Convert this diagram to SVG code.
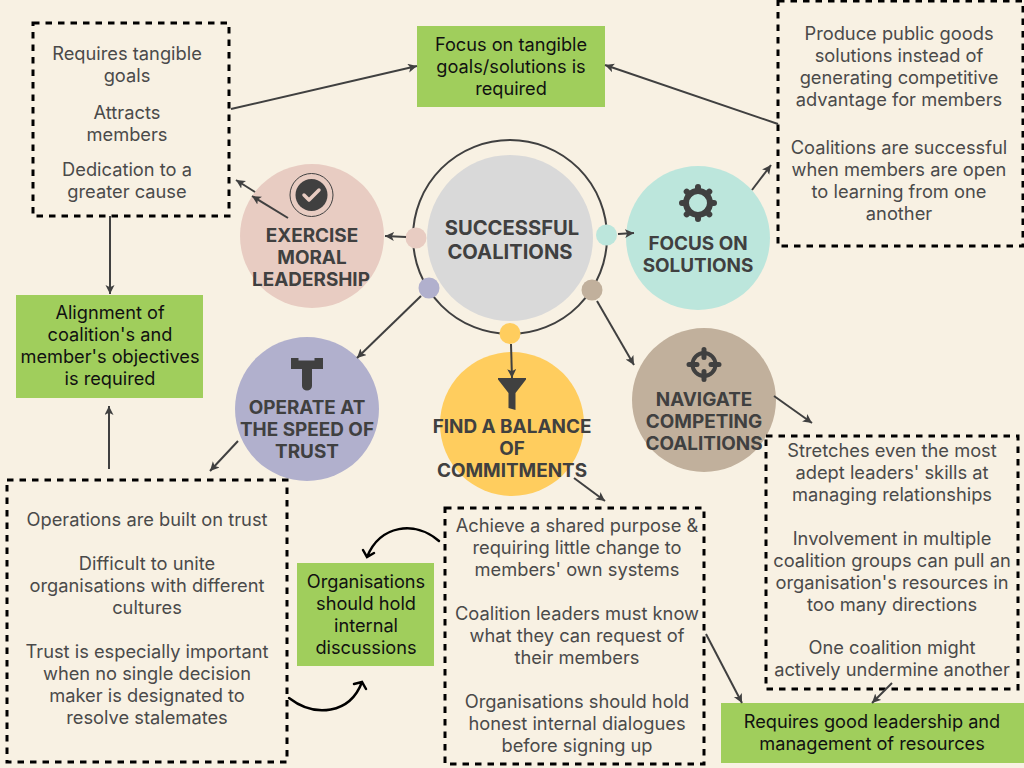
<svg xmlns="http://www.w3.org/2000/svg" width="1024" height="768" viewBox="0 0 1024 768">
<style>
.b{font-family:Inter,"Liberation Sans",sans-serif;font-size:18.300px;fill:#4a4a4a;text-anchor:middle}
.h{font-family:Inter,"Liberation Sans",sans-serif;font-size:18.900px;font-weight:700;fill:#404040;text-anchor:middle}
.g{font-family:Inter,"Liberation Sans",sans-serif;font-size:18.200px;fill:#111;text-anchor:middle}
.d{fill:none;stroke:#000;stroke-width:3;stroke-dasharray:6.500 6}
.gr{fill:#a0ce5c}
.l{fill:none;stroke:#404040;stroke-width:2;marker-end:url(#a)}
.c{fill:none;stroke:#000;stroke-width:2.500;stroke-linecap:round}
.i{fill:#404040}
</style>
<defs><marker id="a" markerUnits="userSpaceOnUse" markerWidth="11" markerHeight="10" refX="9" refY="4.500" orient="auto"><path d="M0 0L9 4.500L0 9L2.200 4.500Z" fill="#404040"/></marker></defs>
<rect width="1024" height="768" fill="#f8f1e3"/>
<g id="center">
<circle cx="510" cy="237" r="97" fill="none" stroke="#404040" stroke-width="2"/>
<circle cx="510" cy="238" r="83" fill="#d9d9d9"/>
<text class="h" style="font-size:20.200px" x="512" y="235">SUCCESSFUL</text>
<text class="h" style="font-size:20.200px" x="510" y="259">COALITIONS</text>
<circle cx="416" cy="238" r="10.500" fill="#e8ccc2"/>
<circle cx="606.500" cy="235" r="10.500" fill="#bce6dc"/>
<circle cx="429" cy="288" r="10.500" fill="#b1b0cd"/>
<circle cx="592" cy="290" r="10.500" fill="#c1b09c"/>
<circle cx="510" cy="333.500" r="10.500" fill="#ffcd5e"/>
</g>
<g id="moral">
<circle cx="312" cy="236" r="72" fill="#e8ccc2"/>
<circle cx="311.500" cy="195" r="21.500" fill="none" stroke="#404040" stroke-width="1"/>
<circle cx="311.500" cy="195" r="16" class="i"/>
<path d="M304 195l5 5l10-10" fill="none" stroke="#e8ccc2" stroke-width="3.500" stroke-linecap="round" stroke-linejoin="round"/>
<text class="h" x="312" y="242">EXERCISE</text>
<text class="h" x="312" y="264">MORAL</text>
<text class="h" x="311" y="286">LEADERSHIP</text>
</g>
<g id="solutions">
<circle cx="698" cy="238" r="72" fill="#bce6dc"/>
<circle cx="698" cy="203" r="12" fill="none" stroke="#404040" stroke-width="6"/>
<path d="M698 187v4M698 215v4M682 203h4M710 203h4M686.700 191.700l2.800 2.800M706.500 211.500l2.800 2.800M709.300 191.700l-2.800 2.800M689.500 211.500l-2.800 2.800" stroke="#404040" stroke-width="6" stroke-linecap="round"/>
<text class="h" x="698" y="250">FOCUS ON</text>
<text class="h" x="698" y="272">SOLUTIONS</text>
</g>
<g id="speed">
<circle cx="307" cy="409" r="72" fill="#b1b0cd"/>
<path class="i" d="M291 358h7.500v2.500h16v-2.500h8.500v11h-11v17a5 4.500 0 0 1-10 0v-17h-11Z"/>
<text class="h" x="307" y="414">OPERATE AT</text>
<text class="h" x="307" y="436">THE SPEED OF</text>
<text class="h" x="307" y="458">TRUST</text>
</g>
<g id="balance">
<circle cx="512" cy="424" r="72" fill="#ffcd5e"/>
<path class="i" d="M498 378h28v1.500l-10.500 13.500v17l-7-2v-15l-10.500-13.500Z"/>
<text class="h" x="512" y="433">FIND A BALANCE</text>
<text class="h" x="512" y="455">OF</text>
<text class="h" x="512" y="477">COMMITMENTS</text>
</g>
<g id="navigate">
<circle cx="704" cy="400" r="72" fill="#c1b09c"/>
<circle cx="704" cy="364.500" r="11.500" fill="none" stroke="#404040" stroke-width="4"/>
<path d="M704 349.500v8M704 371.500v8M689 364.500h8M711 364.500h8" stroke="#404040" stroke-width="5" stroke-linecap="round"/>
<text class="h" x="704" y="406">NAVIGATE</text>
<text class="h" x="704" y="428">COMPETING</text>
<text class="h" x="704" y="450">COALITIONS</text>
</g>
<g id="box-moral">
<rect class="d" x="33" y="23" width="196" height="193"/>
<text class="b" x="127" y="60">Requires tangible</text><text class="b" x="127" y="82">goals</text>
<text class="b" x="127" y="119">Attracts</text><text class="b" x="127" y="141">members</text>
<text class="b" x="127" y="176">Dedication to a</text><text class="b" x="127" y="198">greater cause</text>
</g>
<g id="box-solutions">
<rect class="d" x="778" y="1" width="245" height="245"/>
<text class="b" x="899" y="40">Produce public goods</text><text class="b" x="899" y="62">solutions instead of</text><text class="b" x="899" y="84">generating competitive</text><text class="b" x="899" y="106">advantage for members</text>
<text class="b" x="899" y="154">Coalitions are successful</text><text class="b" x="899" y="176">when members are open</text><text class="b" x="899" y="198">to learning from one</text><text class="b" x="899" y="220">another</text>
</g>
<g id="box-speed">
<rect class="d" x="7" y="480" width="280" height="282"/>
<text class="b" x="147" y="526">Operations are built on trust</text>
<text class="b" x="147" y="570">Difficult to unite</text><text class="b" x="147" y="592">organisations with different</text><text class="b" x="147" y="614">cultures</text>
<text class="b" x="147" y="658">Trust is especially important</text><text class="b" x="147" y="680">when no single decision</text><text class="b" x="147" y="702">maker is designated to</text><text class="b" x="147" y="724">resolve stalemates</text>
</g>
<g id="box-balance">
<rect class="d" x="445" y="508" width="259" height="256"/>
<text class="b" x="577" y="532">Achieve a shared purpose &amp;</text><text class="b" x="577" y="554">requiring little change to</text><text class="b" x="577" y="576">members' own systems</text>
<text class="b" x="577" y="620">Coalition leaders must know</text><text class="b" x="577" y="642">what they can request of</text><text class="b" x="577" y="664">their members</text>
<text class="b" x="577" y="708">Organisations should hold</text><text class="b" x="577" y="730">honest internal dialogues</text><text class="b" x="577" y="752">before signing up</text>
</g>
<g id="box-navigate">
<rect class="d" x="766" y="436" width="252" height="253"/>
<text class="b" x="892" y="457">Stretches even the most</text><text class="b" x="892" y="479">adept leaders' skills at</text><text class="b" x="892" y="501">managing relationships</text>
<text class="b" x="892" y="545">Involvement in multiple</text><text class="b" x="892" y="567">coalition groups can pull an</text><text class="b" x="892" y="589">organisation's resources in</text><text class="b" x="892" y="611">too many directions</text>
<text class="b" x="892" y="654">One coalition might</text><text class="b" x="892" y="676">actively undermine another</text>
</g>
<g id="green-goals"><rect class="gr" x="417" y="26" width="188" height="81"/>
<text class="g" x="511" y="51">Focus on tangible</text><text class="g" x="511" y="73">goals/solutions is</text><text class="g" x="511" y="95">required</text></g>
<g id="green-align"><rect class="gr" x="16" y="295" width="187" height="103"/>
<text class="g" x="110" y="319">Alignment of</text><text class="g" x="110" y="341">coalition's and</text><text class="g" x="110" y="363">member's objectives</text><text class="g" x="110" y="385">is required</text></g>
<g id="green-internal"><rect class="gr" x="297" y="563" width="137" height="103"/>
<text class="g" x="366" y="588">Organisations</text><text class="g" x="366" y="610">should hold</text><text class="g" x="366" y="632">internal</text><text class="g" x="366" y="654">discussions</text></g>
<g id="green-leadership"><rect class="gr" x="721" y="703" width="303" height="60"/>
<text class="g" x="872" y="728">Requires good leadership and</text><text class="g" x="872" y="750">management of resources</text></g>
<g id="connectors">
<path class="l" d="M288 218L252 196"/>
<path class="l" d="M255 192L236 180"/>
<path class="l" d="M406 237L385 236"/>
<path class="l" d="M618 234L634 233"/>
<path class="l" d="M752 190L771 165"/>
<path class="l" d="M421 296L357 358"/>
<path class="l" d="M511 344L512 378"/>
<path class="l" d="M597 301L634 365"/>
<path class="l" d="M774 396L812 423"/>
<path class="l" d="M574 478L605 501"/>
<path class="l" d="M238 441L210 471"/>
<path class="l" d="M231 109L417 66"/>
<path class="l" d="M778 124L605 65"/>
<path class="l" d="M110 216V294"/>
<path class="l" d="M109 469V406"/>
<path class="l" d="M706 634L742 703"/>
<path class="l" d="M892 683L872 703"/>
<path class="c" d="M439 541C415 520 380 525 367 557M363 550L367 557L374 553"/>
<path class="c" d="M289 698C315 718 350 714 362 682M354 684L362 682L366 689"/>
</g>
</svg>
